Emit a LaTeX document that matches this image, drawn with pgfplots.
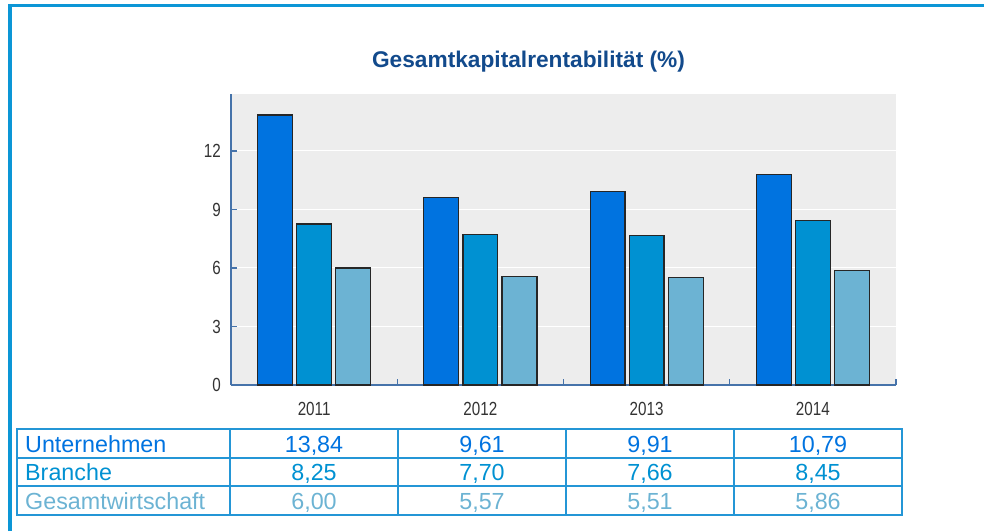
\documentclass[border=0pt]{standalone}
\usepackage{fontspec}
\setmainfont{Liberation Sans}
\newfontfamily\narrowfont[FakeStretch=0.8]{Liberation Sans}
\usepackage{pgfplots}
\usepackage{pgfplotstable}
\pgfplotsset{compat=1.18}

\definecolor{cUnt}{RGB}{0,115,224}
\definecolor{cBra}{RGB}{0,145,210}
\definecolor{cGes}{RGB}{108,179,211}
\definecolor{frameblue}{RGB}{12,150,214}
\definecolor{tableblue}{RGB}{36,150,214}
\definecolor{axisblue}{RGB}{70,115,170}
\definecolor{titleblue}{RGB}{18,74,140}
\definecolor{plotbg}{RGB}{237,237,237}

% Gesamtkapitalrentabilitaet in %
\pgfplotstableread{
year unt bra ges
2011 13.84 8.25 6.00
2012 9.61 7.70 5.57
2013 9.91 7.66 5.51
2014 10.79 8.45 5.86
}\data

\begin{document}
\begin{tikzpicture}[x=1pt,y=1pt]
\useasboundingbox (0,0) rectangle (984,531);
% frame
\draw[frameblue,line width=3.3pt] (8,525.5) -- (984,525.5);
\draw[frameblue,line width=4pt] (10,0) -- (10,527);

\node[font=\bfseries\fontsize{22.7}{26}\selectfont,text=titleblue] at (528.5,469) {Gesamtkapitalrentabilität (\%)};

\begin{axis}[at={(231pt,146pt)},anchor=south west,scale only axis,
  width=665pt,height=291pt,
  xmin=-0.5,xmax=3.5,ymin=0,ymax=14.92,
  axis x line*=bottom,axis y line*=left,
  axis line style={axisblue,line width=1.5pt},
  axis background/.style={fill=plotbg},
  ymajorgrids,grid style={white,line width=1pt},
  ytick={0,3,6,9,12},
  xtick={0.5,1.5,2.5,3.5},xticklabels={},
  extra x ticks={0,1,2,3},extra x tick labels={2011,2012,2013,2014},
  extra x tick style={major tick length=0pt,grid=none},
  tick align=inside,major tick length=6pt,
  tick style={axisblue,line width=1.2pt},
  /pgf/number format/assume math mode=true,
  tick label style={font=\narrowfont\fontsize{19}{19}\selectfont,text=black!80,inner sep=0pt},
  yticklabel style={anchor=east,xshift=-10pt},
  xticklabel style={anchor=north,yshift=-17pt},
  clip=false]
\addplot[ybar,bar width=0.21,bar shift=-0.235,fill=cUnt,draw=black!85,line width=1.2pt]
  table[x expr=\coordindex,y=unt]{\data};
\addplot[ybar,bar width=0.21,bar shift=0,fill=cBra,draw=black!85,line width=1.2pt]
  table[x expr=\coordindex,y=bra]{\data};
\addplot[ybar,bar width=0.21,bar shift=0.235,fill=cGes,draw=black!85,line width=1.2pt]
  table[x expr=\coordindex,y=ges]{\data};
\end{axis}

% value table below the chart
\draw[tableblue,line width=1.2pt] (17,16) rectangle (902,102);
\foreach \yy in {73,45} \draw[tableblue,line width=1.2pt] (17,\yy) -- (902,\yy);
\foreach \xx in {230,398,566,734} \draw[tableblue,line width=1.2pt] (\xx,16) -- (\xx,102);
\begin{scope}[every node/.style={font=\fontsize{23.3}{28}\selectfont,inner sep=0pt}]
\node[anchor=base west,text=cUnt] at (25,79) {Unternehmen};
\node[anchor=base west,text=cBra] at (25,50.5) {Branche};
\node[anchor=base west,text=cGes] at (25,22) {Gesamtwirtschaft};
\foreach \r in {0,1,2,3}{
  \pgfmathsetmacro{\cx}{314+168*\r}
  \pgfplotstablegetelem{\r}{unt}\of\data \let\va\pgfplotsretval
  \pgfplotstablegetelem{\r}{bra}\of\data \let\vb\pgfplotsretval
  \pgfplotstablegetelem{\r}{ges}\of\data \let\vc\pgfplotsretval
  \node[anchor=base,text=cUnt] at (\cx,79) {\pgfmathprintnumber[fixed,fixed zerofill,precision=2,use comma,assume math mode=true]{\va}};
  \node[anchor=base,text=cBra] at (\cx,50.5) {\pgfmathprintnumber[fixed,fixed zerofill,precision=2,use comma,assume math mode=true]{\vb}};
  \node[anchor=base,text=cGes] at (\cx,22) {\pgfmathprintnumber[fixed,fixed zerofill,precision=2,use comma,assume math mode=true]{\vc}};
}
\end{scope}
\end{tikzpicture}
\end{document}
